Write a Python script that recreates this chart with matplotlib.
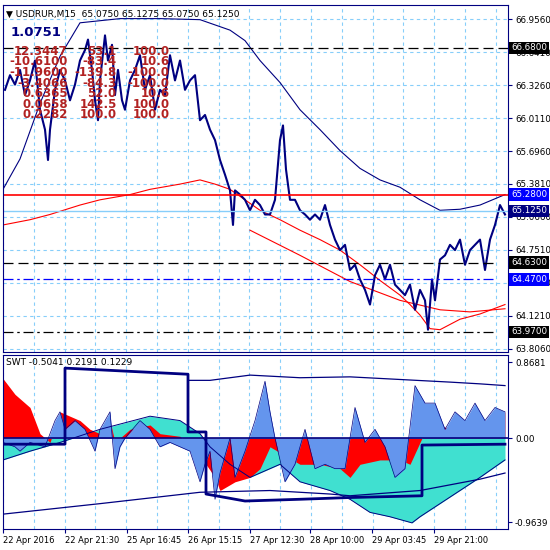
import matplotlib
matplotlib.use("Agg")
import matplotlib.pyplot as plt
import numpy as np

NAVY = "#000080"
GRIDC = "#87cefa"

# ---- data ----
time_labels = ["22 Apr 2016", "22 Apr 21:30", "25 Apr 16:45", "26 Apr 15:15",
               "27 Apr 12:30", "28 Apr 10:00", "29 Apr 03:45", "29 Apr 21:00"]
time_pos = [3, 65, 127, 188, 250, 310, 372, 434]

bar_x = [5,10,15,20,25,30,35,40,45,48,50,55,60,65,70,75,80,85,88,92,95,98,100,105,108,112,115,118,122,125,
         130,135,140,145,150,155,160,165,170,175,180,185,190,195,200,205,210,215,220,225,230,233,235,240,245,
         250,255,260,265,270,275,280,283,286,290,295,300,305,310,315,320,325,330,335,340,345,350,355,360,365,
         370,375,380,385,390,395,400,405,410,415,420,425,428,432,435,440,445,450,455,460,465,470,475,480,485,
         490,495,500,505]
price = [66.28,66.42,66.33,66.47,66.23,66.37,66.56,66.09,65.90,65.61,65.90,66.28,66.47,66.37,66.18,66.33,66.56,66.66,66.76,
         66.47,66.18,65.99,66.37,66.80,66.56,66.71,66.23,66.47,66.18,66.09,66.37,66.47,66.61,66.28,66.42,66.09,66.28,66.23,
         66.61,66.37,66.56,66.28,66.37,66.42,65.99,66.04,65.90,65.80,65.61,65.47,65.32,64.99,65.32,65.28,65.23,65.13,65.23,
         65.18,65.09,65.09,65.23,65.80,65.94,65.52,65.23,65.23,65.13,65.09,65.04,65.09,65.04,65.18,64.99,64.85,64.75,64.80,
         64.56,64.61,64.47,64.37,64.23,64.51,64.61,64.47,64.61,64.42,64.37,64.32,64.42,64.18,64.37,64.27,63.99,64.47,64.27,
         64.66,64.70,64.80,64.75,64.85,64.61,64.75,64.80,64.85,64.56,64.85,64.99,65.18,65.09]

ma_blue_x = [3,20,40,60,80,120,160,200,215,230,245,260,280,300,320,340,360,380,400,420,440,460,480,505]
ma_blue = [65.33,65.62,66.15,66.60,66.92,66.96,66.96,66.95,66.90,66.85,66.75,66.56,66.35,66.09,65.90,65.70,65.53,65.42,65.35,65.23,65.13,65.14,65.18,65.28]
ma_red_x = [3,30,50,80,100,130,150,180,200,215,230,245,260,280,300,320,340,360,380,400,410,420,430,440,460,480,505]
ma_red = [64.99,65.04,65.09,65.18,65.23,65.28,65.33,65.38,65.42,65.38,65.33,65.23,65.13,65.04,64.94,64.85,64.75,64.61,64.46,64.32,64.23,64.13,64.00,63.99,64.09,64.14,64.23]
ma_red2_x = [250,300,350,400,440,470,505]
ma_red2 = [64.94,64.70,64.45,64.27,64.18,64.16,64.19]

levels = {"66.6800": 66.68, "65.2800": 65.28, "65.1250": 65.125, "64.6300": 64.63, "64.4700": 64.47, "63.9700": 63.97}
yticks_main = [66.956, 66.641, 66.326, 66.011, 65.696, 65.381, 65.066, 64.751, 64.436, 64.121, 63.806]

table = [["12.3447", "53.1", "100.0"], ["-10.6100", "-83.4", "10.6"], ["-11.9600", "-139.8", "-100.0"],
         ["-3.4066", "-84.3", "-100.0"], ["0.6365", "52.0", "10.6"], ["0.0658", "142.5", "100.0"],
         ["0.2282", "100.0", "100.0"]]

sx = [3,15,20,30,45,55,60,65,75,85,95,100,110,115,120,125,140,150,160,170,180,190,200,205,210,215,220,230,235,245,
      255,265,270,275,285,295,305,315,325,335,345,355,365,375,385,395,405,415,425,435,445,455,465,475,485,495,505]
swt_blue = [-0.05,-0.1,-0.15,-0.05,-0.1,0.2,0.3,0.1,0.2,0.1,-0.15,0.1,0.3,-0.35,-0.1,0.0,0.2,0.1,-0.1,-0.05,-0.1,-0.15,
            -0.5,-0.3,-0.15,-0.7,-0.4,0.0,-0.45,-0.15,0.2,0.65,0.3,0.0,-0.5,-0.3,0.1,-0.35,-0.3,-0.35,-0.35,0.35,-0.05,
            0.1,-0.1,-0.45,-0.35,0.6,0.4,0.4,0.1,0.3,0.2,0.4,0.2,0.35,0.3]
rx = [3,15,30,40,50,60,70,80,90,100,110,115,130,150,160,180,200,215,220,235,250,260,270,285,300,320,340,350,360,380,
      400,410,420,430,440,460,475,490,505]
swt_red = [0.68,0.5,0.35,0.05,-0.05,0.3,0.25,0.2,0.1,0.05,0.2,-0.05,0.1,0.15,0.05,0.02,-0.2,-0.45,-0.6,-0.5,-0.45,
           -0.35,-0.1,-0.2,-0.3,-0.3,-0.35,-0.45,-0.3,-0.25,-0.25,-0.3,-0.05,0.2,0.15,0.05,0.15,0.2,0.3]
cx = [3,30,60,100,150,180,200,210,230,250,270,280,300,330,350,370,390,412,420,440,460,480,505]
swt_cyan = [-0.25,-0.15,-0.05,0.1,0.25,0.2,0.05,-0.1,-0.3,-0.45,-0.35,-0.3,-0.5,-0.6,-0.7,-0.85,-0.9,-0.97,-0.9,-0.75,-0.6,-0.45,-0.25]
stx = [3,65,65,188,188,206,206,245,300,350,422,422,505]
step = [-0.07,-0.07,0.8,0.73,0.07,0.07,-0.64,-0.72,-0.7,-0.68,-0.66,-0.08,-0.07]
ubx = [188,210,250,300,350,400,450,480,505]
upper_band = [0.66,0.66,0.72,0.69,0.7,0.67,0.64,0.62,0.6]
lbx = [3,100,200,270,330,350,420,480,505]
lower_band = [-0.87,-0.75,-0.62,-0.6,-0.64,-0.66,-0.6,-0.47,-0.4]

fig = plt.figure(figsize=(5.5, 5.5), dpi=100)
fig.patch.set_facecolor("white")
ax = fig.add_axes([3/550, 1-352/550, 505/550, 347/550])
ax2 = fig.add_axes([3/550, 1-529/550, 505/550, 174/550])

for a in (ax, ax2):
    a.set_xlim(3, 508)
    for s in a.spines.values():
        s.set_color(NAVY)
    a.yaxis.tick_right()
    a.tick_params(axis="both", colors=NAVY, labelsize=6.3, length=3, pad=2, labelcolor="black")
    for xv in np.arange(3, 508, 30.8):
        a.axvline(xv, color=GRIDC, ls=(0, (3, 3)), lw=0.8, zorder=0)

# main
ax.set_ylim(63.777, 67.09)
ax.set_yticks(yticks_main)
ax.set_yticklabels([f"{v:.4f}" for v in yticks_main])
ax.set_xticks([])
for yv in yticks_main:
    ax.axhline(yv, color=GRIDC, ls=(0, (3, 3)), lw=0.8, zorder=0)
ax.plot(ma_blue_x, ma_blue, color=NAVY, lw=0.8)
ax.plot(ma_red_x, ma_red, color="red", lw=0.8)
ax.plot(ma_red2_x, ma_red2, color="red", lw=0.8)
ax.plot(bar_x, price, color=NAVY, lw=1.5)
ax.axhline(levels["66.6800"], color="black", ls=(0, (8, 4)), lw=0.9)
ax.axhline(levels["65.2800"], color="red", lw=1.2)
ax.axhline(levels["65.1250"], color="#87cefa", lw=1)
ax.axhline(levels["64.6300"], color="black", ls=(0, (8, 4)), lw=0.9, xmax=0.97)
ax.axhline(levels["64.4700"], color="blue", ls=(0, (8, 3, 2, 3)), lw=0.9, xmax=0.97)
ax.axhline(levels["63.9700"], color="black", ls=(0, (8, 3, 2, 3)), lw=0.9, xmax=0.97)
boxc = {"66.6800": "black", "65.2800": "blue", "65.1250": NAVY, "64.6300": "black", "64.4700": "blue", "63.9700": "black"}
for k, v in levels.items():
    ax.text(1.006, v, k, transform=ax.get_yaxis_transform(), fontsize=6.3, color="white", va="center",
            zorder=10, clip_on=False,
            bbox=dict(boxstyle="square,pad=0.2", fc=boxc[k], ec="none"))
ax.text(0.005, 0.985, "\u25bc USDRUR,M15  65.0750 65.1275 65.0750 65.1250", transform=ax.transAxes,
        fontsize=6.5, va="top", color="black")
ax.text(0.015, 0.94, "1.0751", transform=ax.transAxes, fontsize=9.5, fontweight="bold", va="top", color=NAVY)
for i, row in enumerate(table):
    yy = 0.885 - i * 0.0305
    for j, (txt, xr) in enumerate(zip(row, [0.128, 0.225, 0.33])):
        ax.text(xr, yy, txt, transform=ax.transAxes, fontsize=8.5, fontweight="bold", color="#b22222",
                ha="right", va="top")

# sub
ax2.set_ylim(-1.04, 0.95)
ax2.set_yticks([0.8681, 0.0, -0.9639])
ax2.set_yticklabels(["0.8681", "0.00", "-0.9639"])
ax2.fill_between(cx, swt_cyan, 0, color="#40e0d0", lw=0)
ax2.plot(cx, swt_cyan, color=NAVY, lw=0.7)
ax2.fill_between(rx, swt_red, 0, color="red", lw=0)
ax2.fill_between(sx, swt_blue, 0, color="#6495ed", lw=0)
ax2.plot(sx, swt_blue, color=NAVY, lw=0.5)
ax2.axhline(0, color=NAVY, lw=1.2)
ax2.plot(ubx, upper_band, color=NAVY, lw=0.9)
ax2.plot(lbx, lower_band, color=NAVY, lw=0.9)
ax2.plot(stx, step, color=NAVY, lw=2)
ax2.set_xticks(time_pos)
ax2.set_xticklabels(time_labels, ha="left", fontsize=6)
ax2.text(0.005, 0.985, "SWT -0.5041 0.2191 0.1229", transform=ax2.transAxes, fontsize=6.5, va="top")

fig.savefig("out.png", dpi=100)
